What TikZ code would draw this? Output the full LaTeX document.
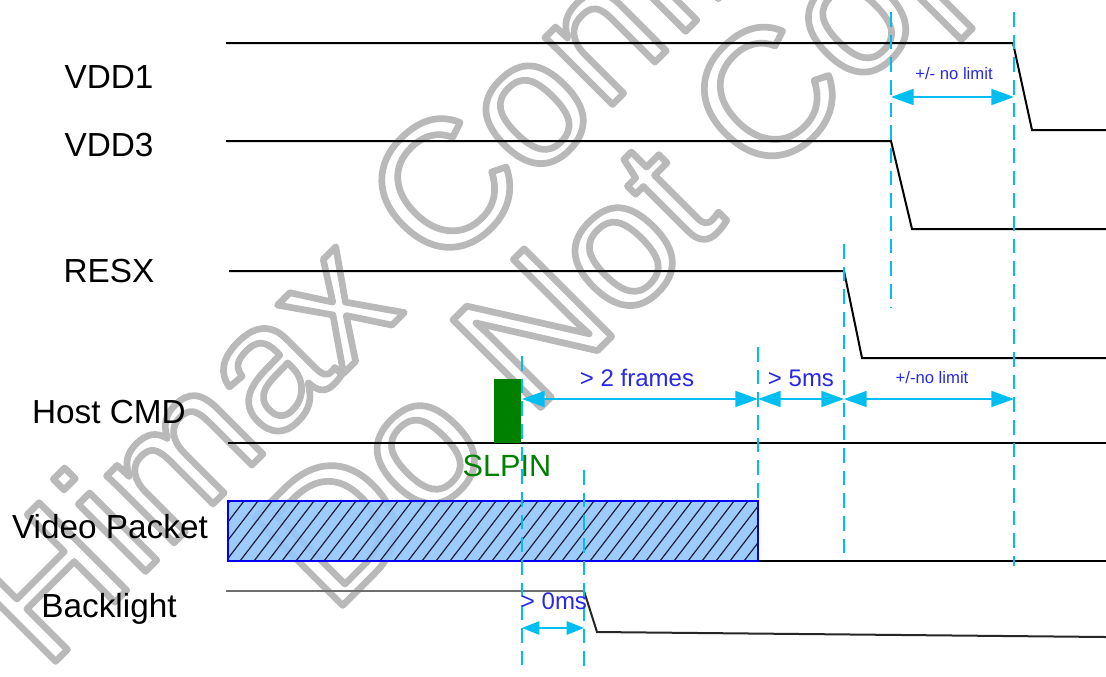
\documentclass[tikz,border=0pt]{standalone}
\usepackage{fontspec}
\setmainfont{Liberation Sans}
\usetikzlibrary{arrows.meta}
\definecolor{cyanline}{RGB}{0,190,240}
\definecolor{lblblue}{RGB}{40,40,230}
\definecolor{slgreen}{RGB}{0,128,0}
\definecolor{pktfill}{RGB}{150,200,250}
\definecolor{pktedge}{RGB}{0,0,240}
\definecolor{hatchc}{RGB}{30,30,60}
\definecolor{wmgray}{RGB}{185,185,185}
\definecolor{blgray}{RGB}{110,110,110}
\newcommand{\wmtext}[1]{\special{pdf:literal direct 1 Tr 5 w 1 j}#1\special{pdf:literal direct 0 Tr}}
\begin{document}
\begin{tikzpicture}[x=0.75pt,y=-0.75pt,
  signal/.style={line width=1.5pt, black, line join=miter},
  guide/.style={cyanline, line width=1.1pt, dash pattern=on 11pt off 6pt},
  dimarrow/.style={cyanline, line width=1.3pt, {Triangle[length=17pt,width=12pt]}-{Triangle[length=17pt,width=12pt]}},
  smallarrow/.style={cyanline, line width=1.3pt, {Triangle[length=13pt,width=10pt]}-{Triangle[length=13pt,width=10pt]}},
  lbl/.style={font=\fontsize{25}{28}\selectfont, inner sep=0pt},
  dimlbl/.style={font=\fontsize{18}{20}\selectfont, text=lblblue, inner sep=0pt},
  tinylbl/.style={font=\fontsize{12.5}{14}\selectfont, text=lblblue, inner sep=0pt},
  wmark/.style={font=\fontsize{135}{135}\selectfont, text=wmgray, color=wmgray, rotate=45, anchor=base west, inner sep=0pt}
]
\useasboundingbox (0,0) rectangle (1106,676);
\fill[white] (0,0) rectangle (1106,676);

% ---- watermark (behind the diagram)
\node[wmark] (wm1) at (45,672) {\wmtext{Himax Confidential}};
\node[wmark] (wm2) at (332,616) {\wmtext{Do Not Copy}};

% ---- signal labels
\node[lbl] (lvdd1) at (109,77) {VDD1};
\node[lbl] (lvdd3) at (109,145) {VDD3};
\node[lbl] (lresx) at (109,271) {RESX};
\node[lbl] (lhost) at (109,412) {Host CMD};
\node[lbl] (lvideo) at (110,527) {Video Packet};
\node[lbl] (lback) at (109,609) {Backlight};

% ---- signal corner points
\coordinate (v1a) at (226,43);  \coordinate (v1b) at (1013,43);
\coordinate (v1c) at (1032,130); \coordinate (v1d) at (1106,130);
\coordinate (v3a) at (226,141); \coordinate (v3b) at (891,141);
\coordinate (v3c) at (912,229); \coordinate (v3d) at (1106,229);
\coordinate (ra) at (229,271);  \coordinate (rb) at (844,271);
\coordinate (rc) at (862,358);  \coordinate (rd) at (1106,358);
\coordinate (ha) at (228,443);  \coordinate (hb) at (1106,443);
\coordinate (pa) at (758,561);  \coordinate (pb) at (1106,561);
\coordinate (ba) at (226,591);  \coordinate (bb) at (584,591);
\coordinate (bc) at (597,632);  \coordinate (bd) at (1106,637);

\draw[signal] (v1a) -- (v1b) -- (v1c) -- (v1d);
\draw[signal] (v3a) -- (v3b) -- (v3c) -- (v3d);
\draw[signal] (ra) -- (rb) -- (rc) -- (rd);
\draw[signal] (ha) -- (hb);
\draw[signal] (pa) -- (pb);
\draw[signal, blgray] (ba) -- (bb);
\draw[signal, black!85] (bb) -- (bc) -- (bd);

% ---- SLPIN command block
\fill[slgreen] (494,379) rectangle (521,443);
\node[font=\fontsize{23}{26}\selectfont, text=slgreen, inner sep=0pt] (slpin) at (507,466) {SLPIN};

% ---- video packet (hatched)
\fill[pktfill, fill opacity=0.92] (228,501) rectangle (758,561);
\begin{scope}
  \clip (228,501) rectangle (758,561);
  \foreach \x in {170,184,...,770} {
    \draw[hatchc, line width=0.9pt] (\x,561) -- ++(46,-60);
  }
\end{scope}
\draw[pktedge, line width=1.1pt] (228,501) rectangle (758,561);

% ---- dashed guide lines
\coordinate (g1t) at (891,12);  \coordinate (g1b) at (891,307);
\coordinate (g2t) at (1014,12); \coordinate (g2b) at (1014,566);
\coordinate (g3t) at (844,244); \coordinate (g3b) at (844,556);
\coordinate (g4t) at (758,347); \coordinate (g4b) at (758,501);
\coordinate (g5t) at (522,356); \coordinate (g5b) at (522,672);
\coordinate (g6t) at (584,470); \coordinate (g6b) at (584,672);
\draw[guide] (g1t) -- (g1b);
\draw[guide] (g2t) -- (g2b);
\draw[guide] (g3t) -- (g3b);
\draw[guide] (g4t) -- (g4b);
\draw[guide] (g5t) -- (g5b);
\draw[guide] (g6t) -- (g6b);

% ---- dimension arrows
\coordinate (d1a) at (891,97);  \coordinate (d1b) at (1014,97);
\coordinate (d2a) at (522,399); \coordinate (d2b) at (758,399);
\coordinate (d3a) at (758,399); \coordinate (d3b) at (844,399);
\coordinate (d4a) at (844,399); \coordinate (d4b) at (1014,399);
\coordinate (d5a) at (522,628); \coordinate (d5b) at (584,628);
\draw[dimarrow] (d1a) -- (d1b);
\draw[dimarrow] (d2a) -- (d2b);
\draw[dimarrow] (d3a) -- (d3b);
\draw[dimarrow] (d4a) -- (d4b);
\draw[smallarrow] (d5a) -- (d5b);

\node[tinylbl] (t1) at (954,74) {+/- no limit};
\node[dimlbl] (t2) at (637,378) {> 2 frames};
\node[dimlbl] (t3) at (801,378) {> 5ms};
\node[tinylbl] (t4) at (932,378) {+/-no limit};
\node[dimlbl] (t5) at (554,601) {> 0ms};
\end{tikzpicture}
\end{document}
